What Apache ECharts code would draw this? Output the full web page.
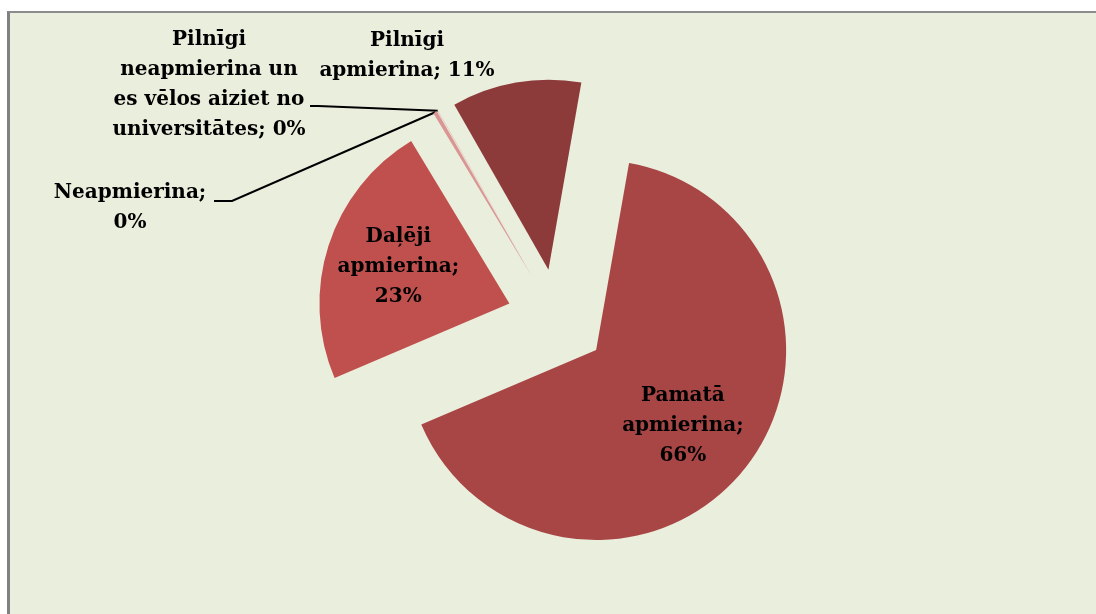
<!DOCTYPE html>
<html>
<head>
<meta charset="utf-8">
<title>Apmierinātība</title>
<script src="https://cdn.jsdelivr.net/npm/echarts@6/dist/echarts.min.js"></script>
<style>
  html, body { margin: 0; padding: 0; background: #ffffff; }
  #frame {
    position: absolute; left: 7px; top: 11px; width: 1089px; height: 603px;
    background: #EAEEDD; border-left: 3px solid #808080; border-top: 2px solid #8c8c8c;
  }
  #chart { position: absolute; left: 0; top: 0; width: 1096px; height: 614px; }
</style>
</head>
<body>
<div id="frame"></div>
<div id="chart"></div>
<script>
// data
var categories = ['Pilnīgi apmierina', 'Pamatā apmierina', 'Daļēji apmierina', 'Neapmierina',
  'Pilnīgi neapmierina un es vēlos aiziet no universitātes'];
var shares = [11.0, 65.7, 22.7, 0.35, 0.05];
// how each label is wrapped (text only)
var labelText = ['Pilnīgi\napmierina; ', 'Pamatā\napmierina;\n', 'Daļēji\napmierina;\n', 'Neapmierina;\n',
  'Pilnīgi\nneapmierina un\nes vēlos aiziet no\nuniversitātes; '];

var sliceColors = ['#8C3A3A', '#A84646', '#C0504D', '#D99694', '#E6B9B8'];
var insideLabel = [false, true, true, false, false];
// small nudges for the labels inside the slices (padding: top, right, bottom, left)
var insidePadding = [0, [12, 16, 0, 0], [18, 0, 0, 8], 0, 0];

var chart = echarts.init(document.getElementById('chart'));

var center = [557, 319];
var radius = 190;
var startAngle = 119.7;
var explode = 50;

var labelFont = {
  fontFamily: 'DejaVu Serif',
  fontWeight: 'bold',
  fontSize: 20,
  lineHeight: 30,
  color: '#000000'
};

function fmt(p) {
  return labelText[p.dataIndex] + Math.round(p.percent) + '%';
}

// where the outside labels sit (page pixels)
var outsideSpots = {
  0: { x: 407, y: 56 },
  3: { x: 130, y: 208, elbow: [[232, 201], [214, 201]] },
  4: { x: 209, y: 85, elbow: [[318, 106], [310, 106]] }
};

function transparentCopy(extra) {
  return Object.assign({
    type: 'pie',
    silent: true,
    center: center,
    startAngle: startAngle,
    clockwise: true,
    avoidLabelOverlap: false,
    emphasis: { disabled: true },
    itemStyle: { color: 'rgba(0,0,0,0)' }
  }, extra);
}

var option = {
  backgroundColor: 'transparent',
  animation: false,
  series: [
    {
      type: 'pie',
      center: center,
      radius: radius,
      startAngle: startAngle,
      clockwise: true,
      selectedMode: 'multiple',
      selectedOffset: explode,
      emphasis: { disabled: true },
      label: { show: false },
      labelLine: { show: false },
      data: categories.map(function (c, i) {
        return { name: c, value: shares[i], selected: true, itemStyle: { color: sliceColors[i] } };
      })
    },
    // labels drawn inside the exploded slices
    transparentCopy({
      radius: [46, radius],
      selectedMode: 'multiple',
      selectedOffset: explode,
      label: Object.assign({ position: 'inside', formatter: fmt, align: 'center' }, labelFont),
      labelLine: { show: false },
      data: categories.map(function (c, i) {
        return {
          name: c, value: shares[i], selected: true,
          label: { show: insideLabel[i], padding: insidePadding[i] }
        };
      })
    }),
    // labels outside the pie, with leader lines to the exploded edge
    transparentCopy({
      radius: radius,
      label: Object.assign({ position: 'outside', formatter: fmt, align: 'center' }, labelFont),
      labelLine: { show: true, length: 10, length2: 10, lineStyle: { color: '#000000', width: 2 } },
      labelLayout: function (p) {
        var s = outsideSpots[p.dataIndex];
        if (!s) return {};
        var out = { x: s.x, y: s.y, align: 'center', verticalAlign: 'middle' };
        if (s.elbow && p.labelLinePoints) {
          var a = p.labelLinePoints[0];
          var dx = a[0] - center[0], dy = a[1] - center[1];
          var len = Math.sqrt(dx * dx + dy * dy);
          var tip = [a[0] + explode * dx / len, a[1] + explode * dy / len];
          out.labelLinePoints = [tip].concat(s.elbow);
        }
        return out;
      },
      data: categories.map(function (c, i) {
        return {
          name: c, value: shares[i],
          label: { show: !insideLabel[i] },
          labelLine: { show: !!(outsideSpots[i] && outsideSpots[i].elbow) }
        };
      })
    })
  ]
};

chart.setOption(option);
</script>
</body>
</html>
